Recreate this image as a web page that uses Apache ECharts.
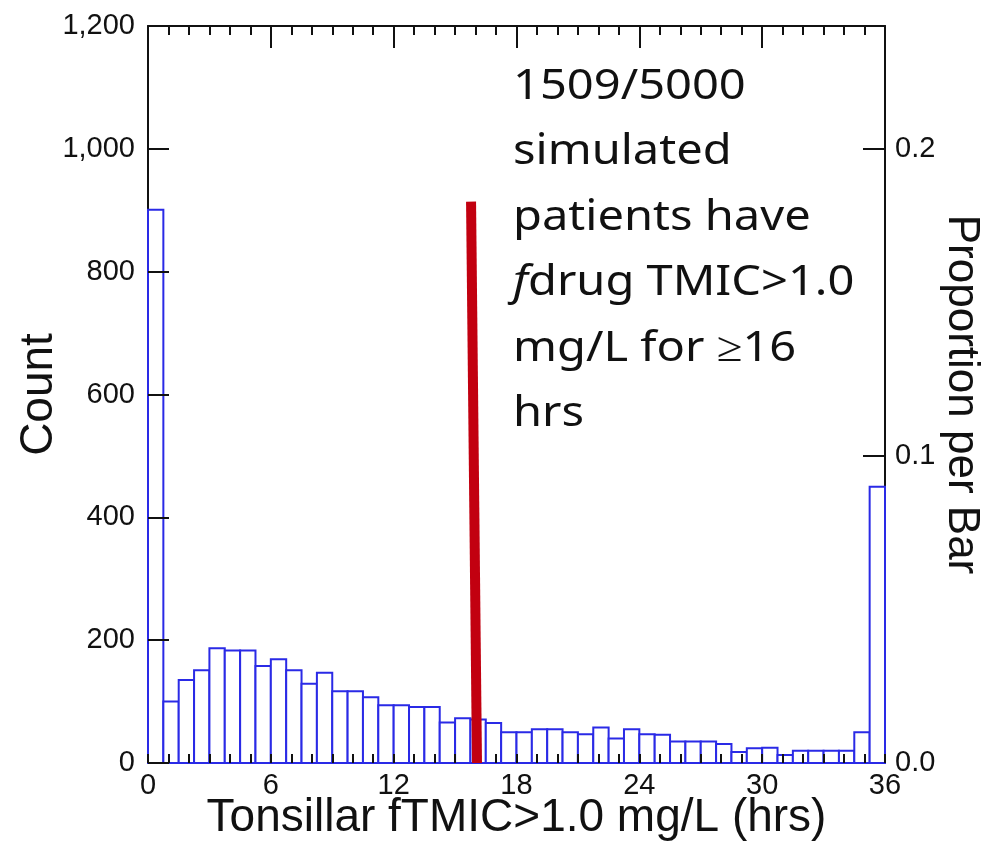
<!DOCTYPE html>
<html>
<head>
<meta charset="utf-8">
<script src="https://cdn.jsdelivr.net/npm/echarts@6/dist/echarts.min.js"></script>
<style>
html,body{margin:0;padding:0;background:#fff;}
#chart{width:999px;height:861px;}
</style>
</head>
<body>
<div id="chart"></div>
<script>
// Histogram bins (hrs): left edges, bin width 0.75 h
const binWidth = 0.75;
const binLefts = [0,0.75,1.5,2.25,3,3.75,4.5,5.25,6,6.75,7.5,8.25,9,9.75,10.5,11.25,
  12,12.75,13.5,14.25,15,15.75,16.5,17.25,18,18.75,19.5,20.25,21,21.75,22.5,23.25,
  24,24.75,25.5,26.25,27,27.75,28.5,29.25,30,30.75,31.5,32.25,33,33.75,34.5,35.25];
const counts = [901,100,135,151,187,183,183,158,169,151,129,147,117,117,107,94,
  94,91,91,66,73,71,65,50,50,55,55,50,47,58,40,55,47,46,
  35,35,35,31,18,24,25,13,20,20,20,20,50,450];
const totalPatients = 5000;
// Threshold marker (hrs, count)
const markerX = [15.78, 16.07];
const markerY = [914, 0];
// Axis ticks
const xTicks = [0, 6, 12, 18, 24, 30, 36];
const countTicks = [0, 200, 400, 600, 800, 1000, 1200];
const propTicks = [0.0, 0.1, 0.2];

const chart = echarts.init(document.getElementById('chart'), null, {renderer: 'canvas'});
const black = '#111';
const labelFont = {fontFamily: 'Liberation Sans', fontSize: 29, color: black};
const nameFont = {fontFamily: 'Liberation Sans', fontSize: 46, color: black};
const countMax = countTicks[countTicks.length - 1];
const xMin = xTicks[0], xMax = xTicks[xTicks.length - 1];
const gridBox = {left: 148, right: 114, top: 26, bottom: 98, containLabel: false};

const option = {
  animation: false,
  backgroundColor: '#fff',
  grid: [Object.assign({}, gridBox), Object.assign({}, gridBox)],
  xAxis: [
    { // bottom main axis
      gridIndex: 0, type: 'value', min: xMin, max: xMax, interval: 6,
      position: 'bottom', z: 0,
      axisLine: {show: true, onZero: false, lineStyle: {color: black, width: 2}},
      axisTick: {show: false},
      splitLine: {show: false},
      axisLabel: Object.assign({margin: 8}, labelFont),
      name: 'Tonsillar fTMIC>1.0 mg/L (hrs)', nameLocation: 'middle', nameGap: 32,
      nameMoveOverlap: false,
      nameTextStyle: nameFont
    },
    { // top axis with ticks
      gridIndex: 0, type: 'value', min: xMin, max: xMax, interval: 6, position: 'top', z: 0,
      axisLine: {show: true, onZero: false, lineStyle: {color: black, width: 2}},
      axisTick: {show: true, inside: true, length: 22, lineStyle: {color: black, width: 2}},
      minorTick: {show: true, splitNumber: 6, length: 9, lineStyle: {color: black, width: 2}},
      axisLabel: {show: false}, splitLine: {show: false}, minorSplitLine: {show: false}
    },
    { // bottom ticks drawn above bars (second, identical grid)
      gridIndex: 1, type: 'value', min: xMin, max: xMax, interval: 6, position: 'bottom', z: 10,
      axisLine: {show: false, onZero: false},
      axisTick: {show: true, inside: true, length: 9, lineStyle: {color: black, width: 2}},
      minorTick: {show: true, splitNumber: 6, length: 9, lineStyle: {color: black, width: 2}},
      axisLabel: {show: false}, splitLine: {show: false}, minorSplitLine: {show: false}
    }
  ],
  yAxis: [
    { // left count axis
      gridIndex: 0, type: 'value', min: 0, max: countMax, interval: 200, position: 'left', z: 0,
      axisLine: {show: true, onZero: false, lineStyle: {color: black, width: 2}},
      axisTick: {show: false},
      splitLine: {show: false},
      axisLabel: Object.assign({margin: 13, formatter: v => v.toLocaleString('en-US')}, labelFont),
      name: 'Count', nameLocation: 'middle', nameGap: 86, nameMoveOverlap: false,
      nameTextStyle: nameFont
    },
    { // right proportion axis
      gridIndex: 0, type: 'value', min: 0, max: countMax / totalPatients, interval: 0.1, position: 'right', z: 0,
      axisLine: {show: true, onZero: false, lineStyle: {color: black, width: 2}},
      axisTick: {show: true, inside: true, length: 22, lineStyle: {color: black, width: 2}},
      splitLine: {show: false},
      axisLabel: Object.assign({margin: 10, showMaxLabel: false,
        formatter: v => (propTicks.some(t => Math.abs(t - v) < 1e-9) ? v.toFixed(1) : '')}, labelFont),
      name: 'Proportion per Bar', nameLocation: 'middle', nameGap: 54, nameRotate: -90,
      nameMoveOverlap: false,
      nameTextStyle: Object.assign({}, nameFont, {fontSize: 44})
    },
    { // left ticks above bars (second, identical grid)
      gridIndex: 1, type: 'value', min: 0, max: countMax, interval: 200, position: 'left', z: 10,
      axisLine: {show: false, onZero: false},
      axisTick: {show: true, inside: true, length: 21, lineStyle: {color: black, width: 2}},
      axisLabel: {show: false}, splitLine: {show: false}
    }
  ],
  series: [
    {
      type: 'custom', xAxisIndex: 0, yAxisIndex: 0, z: 2,
      data: binLefts.map((l, i) => [l, l + binWidth, counts[i]]),
      renderItem: function (params, api) {
        const p0 = api.coord([api.value(0), api.value(2)]);
        const p1 = api.coord([api.value(1), 0]);
        return {
          type: 'rect',
          shape: {x: p0[0], y: p0[1], width: p1[0] - p0[0], height: p1[1] - p0[1]},
          style: {fill: '#ffffff', stroke: '#2a2ae6', lineWidth: 2}
        };
      }
    },
    {
      type: 'line', xAxisIndex: 0, yAxisIndex: 0, z: 20,
      data: markerX.map((x, i) => [x, markerY[i]]),
      symbol: 'none',
      lineStyle: {color: '#c20010', width: 10, cap: 'butt'}
    }
  ],
  graphic: [
    {
      type: 'text', x: 513, y: 54, scaleX: 1.12, z: 30,
      style: {
        text: '1509/5000\nsimulated\npatients have\n{i|f}drug TMIC>1.0\nmg/L for ≥16\nhrs',
        fontFamily: 'Noto Sans', fontSize: 42, lineHeight: 65.5, fill: black,
        rich: {
          i: {fontFamily: 'Noto Sans', fontSize: 42, fontStyle: 'italic', lineHeight: 65.5, fill: black}
        }
      }
    }
  ]
};
chart.setOption(option);
</script>
</body>
</html>
